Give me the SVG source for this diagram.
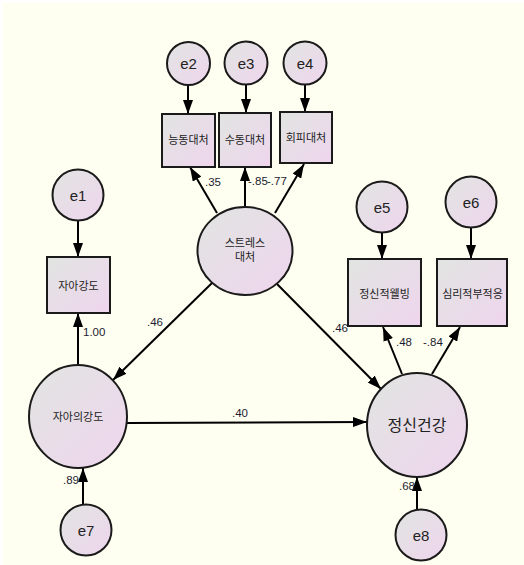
<svg xmlns="http://www.w3.org/2000/svg" width="524" height="565" viewBox="0 0 524 565">
<defs>
<linearGradient id="g" x1="0" y1="0" x2="1" y2="1">
<stop offset="0" stop-color="#e1e5e1"/>
<stop offset="1" stop-color="#efd5ee"/>
</linearGradient>
<marker id="ah" viewBox="0 0 14 10" refX="14" refY="5" markerWidth="14" markerHeight="10" orient="auto" markerUnits="userSpaceOnUse">
<path d="M0,0 L14,5 L0,10 z" fill="#000"/>
</marker>
</defs>
<style>
.n{fill:url(#g);stroke:#1a1a1a;stroke-width:2}
.c line{stroke:#000;stroke-width:2;marker-end:url(#ah)}
text{font-family:"Liberation Sans","Noto Sans CJK KR",sans-serif;fill:#222;text-anchor:middle}
.e{font-size:15px}
.k{font-size:11px}
.big{font-size:16px}
.v{font-size:11.5px;text-anchor:start;fill:#1c1c30}
</style>
<rect x="3" y="3" width="521" height="562" fill="#fefff0"/>
<g class="c" id="connectors">
<line x1="188" y1="85" x2="188" y2="114"/>
<line x1="246" y1="85" x2="246" y2="113"/>
<line x1="305" y1="85" x2="305" y2="112"/>
<line x1="78" y1="221" x2="78" y2="257"/>
<line x1="382" y1="229" x2="382" y2="259"/>
<line x1="471" y1="224" x2="471" y2="259"/>
<line x1="217" y1="213" x2="190" y2="167"/>
<line x1="245" y1="207" x2="245" y2="167"/>
<line x1="275" y1="213" x2="304" y2="164"/>
<line x1="212" y1="283" x2="113" y2="380"/>
<line x1="277" y1="284" x2="381" y2="389"/>
<line x1="127" y1="423" x2="367" y2="422"/>
<line x1="78" y1="365" x2="78" y2="313"/>
<line x1="402" y1="374" x2="383" y2="327"/>
<line x1="432" y1="374" x2="460" y2="327"/>
<line x1="83" y1="505" x2="83" y2="468"/>
<line x1="417" y1="509" x2="417" y2="477"/>
</g>
<g id="e2"><circle class="n" cx="188.5" cy="63.5" r="21.5"/><text class="e" x="188.5" y="69">e2</text></g>
<g id="e3"><circle class="n" cx="246" cy="63" r="21.5"/><text class="e" x="246" y="68.5">e3</text></g>
<g id="e4"><circle class="n" cx="305" cy="63" r="21.5"/><text class="e" x="305" y="68.5">e4</text></g>
<g id="e1"><circle class="n" cx="78" cy="195" r="25.5"/><text class="e" x="78" y="200.5">e1</text></g>
<g id="e5"><circle class="n" cx="382" cy="207" r="25.5"/><text class="e" x="382" y="212.5">e5</text></g>
<g id="e6"><circle class="n" cx="471" cy="202" r="25.5"/><text class="e" x="471" y="207.5">e6</text></g>
<g id="e7"><circle class="n" cx="86" cy="530" r="25.5"/><text class="e" x="86" y="535.5">e7</text></g>
<g id="e8"><circle class="n" cx="421" cy="535" r="25.5"/><text class="e" x="421" y="540.5">e8</text></g>
<g id="active"><rect class="n" x="162" y="114" width="53" height="53"/><text class="k" x="188.5" y="144">능동대처</text></g>
<g id="passive"><rect class="n" x="219" y="113" width="52" height="54"/><text class="k" x="245" y="144">수동대처</text></g>
<g id="avoid"><rect class="n" x="280" y="112" width="52" height="51"/><text class="k" x="306" y="142">회피대처</text></g>
<g id="egostrength"><rect class="n" x="47" y="257" width="63" height="56"/><text class="k" x="78.5" y="290">자아강도</text></g>
<g id="wellbeing"><rect class="n" x="348" y="259" width="73" height="67"/><text class="k" x="384.5" y="298">정신적웰빙</text></g>
<g id="maladjust"><rect class="n" x="437" y="259" width="70" height="67"/><text class="k" x="472.5" y="298">심리적부적응</text></g>
<g id="stress"><ellipse class="n" cx="245" cy="251" rx="47.5" ry="44"/><text class="k" x="245" y="247">스트레스</text><text class="k" x="245" y="261">대처</text></g>
<g id="ego"><ellipse class="n" cx="78" cy="416.5" rx="49" ry="51.5"/><text class="k" x="78" y="421">자아의강도</text></g>
<g id="mental"><ellipse class="n" cx="417" cy="425" rx="50" ry="52"/><text class="big" x="417" y="431">정신건강</text></g>
<g id="labels">
<text class="v" x="205" y="186">.35</text>
<text class="v" x="248" y="185">-.85</text>
<text class="v" x="267" y="185">-.77</text>
<text class="v" x="83" y="336">1.00</text>
<text class="v" x="147" y="326">.46</text>
<text class="v" x="332" y="332">.46</text>
<text class="v" x="232" y="417">.40</text>
<text class="v" x="396" y="346">.48</text>
<text class="v" x="423" y="346">-.84</text>
<text class="v" x="63" y="484">.89</text>
<text class="v" x="399" y="490">.68</text>
</g>
</svg>
